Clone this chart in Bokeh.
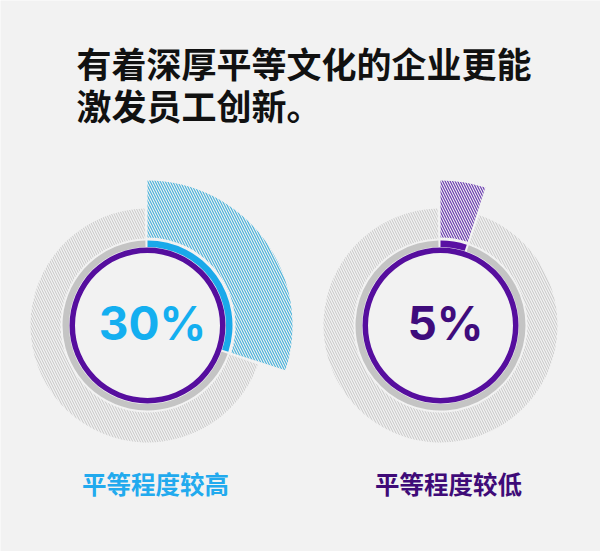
import math
from bokeh.plotting import figure
from bokeh.models import Range1d
from bokeh.core.properties import value
from bokeh.embed import file_html
from bokeh.resources import INLINE

# ---- data ----
title_lines = ["有着深厚平等文化的企业更能", "激发员工创新。"]
groups = ["平等程度较高", "平等程度较低"]
percents = [30, 5]
main_colors = ["#1aa9ea", "#5a11a3"]
hatch_colors = ["#4ab2da", "#6a3cb0"]
pct_colors = ["#14aff0", "#3f0c7c"]
label_colors = ["#22aaee", "#3f0b78"]

# ---- layout ----
W, H = 600, 551
centers_x = [147, 440]
center_y = 226
CJK = "Noto Sans CJK SC"

p = figure(width=W, height=H, x_range=Range1d(0, W), y_range=Range1d(0, H),
           x_axis_type=None, y_axis_type=None, toolbar_location=None,
           output_backend="svg", min_border=0)
p.background_fill_color = "#f2f2f2"
p.border_fill_color = "#f2f2f2"
p.outline_line_color = None
p.grid.visible = False

gap = 0.025
for cx, pct, mc, hc, tc, lc, lab in zip(centers_x, percents, main_colors, hatch_colors,
                                        pct_colors, label_colors, groups):
    frac = pct / 100.0
    top = math.pi / 2
    s = top - frac * 2 * math.pi
    # grey hatched outer ring (remaining part)
    p.annular_wedge(x=cx, y=center_y, inner_radius=87, outer_radius=117,
                    start_angle=top + gap, end_angle=s + 2 * math.pi - gap,
                    fill_alpha=0, line_color=None,
                    hatch_pattern="\\", hatch_color="#c6c6c6",
                    hatch_scale=5, hatch_weight=1.0)
    # coloured hatched sector
    p.annular_wedge(x=cx, y=center_y, inner_radius=88, outer_radius=145,
                    start_angle=s, end_angle=top,
                    fill_alpha=0, line_color=None,
                    hatch_pattern="\\", hatch_color=hc,
                    hatch_scale=5, hatch_weight=1.2)
    # grey thin ring
    p.annular_wedge(x=cx, y=center_y, inner_radius=78.5, outer_radius=85,
                    start_angle=top + gap, end_angle=s + 2 * math.pi - gap,
                    fill_color="#c4c4c4", line_color=None)
    # coloured arc
    p.annular_wedge(x=cx, y=center_y, inner_radius=78.5, outer_radius=85,
                    start_angle=s, end_angle=top,
                    fill_color=mc, line_color=None)
    # purple ring
    p.annulus(x=cx, y=center_y, inner_radius=72.5, outer_radius=78,
              fill_color="#560e9e", line_color=None)
    # percentage
    p.text(x=[cx + 5], y=[center_y + 3], text=[f"{pct}%"],
           text_font=value("Inter"), text_font_style="bold",
           text_font_size="46px", text_color=tc,
           text_align="center", text_baseline="middle")
    # label
    p.text(x=[cx + 8], y=[68], text=[lab],
           text_font=value(CJK), text_font_style="bold",
           text_font_size="24.5px", text_color=lc,
           text_align="center", text_baseline="middle")

p.text(x=[76, 76], y=[489, 447], text=title_lines,
       text_font=value(CJK), text_font_style="bold",
       text_font_size="35px", text_color="#111111",
       text_align="left", text_baseline="middle")

open("out.html", "w").write(file_html(p, INLINE))
